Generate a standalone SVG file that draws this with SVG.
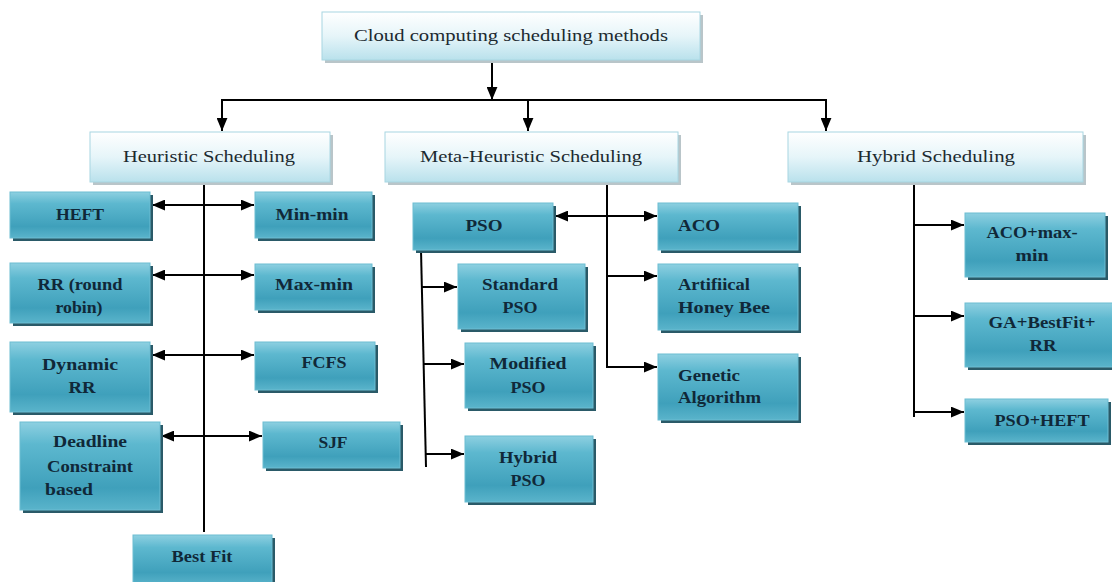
<svg xmlns="http://www.w3.org/2000/svg" width="1112" height="582" viewBox="0 0 1112 582">
<defs>
<linearGradient id="gTop" x1="0" y1="0" x2="0" y2="1">
<stop offset="0" stop-color="#ffffff"/>
<stop offset="0.5" stop-color="#e6f5f9"/>
<stop offset="1" stop-color="#b9e1ec"/>
</linearGradient>
<linearGradient id="gLeaf" x1="0" y1="0" x2="0" y2="1">
<stop offset="0" stop-color="#8ed0e1"/>
<stop offset="0.25" stop-color="#5db8cf"/>
<stop offset="0.75" stop-color="#3fa0bb"/>
<stop offset="1" stop-color="#5ab4cb"/>
</linearGradient>
<marker id="ah" viewBox="0 0 12 10" refX="12" refY="5" markerWidth="13" markerHeight="11" markerUnits="userSpaceOnUse" orient="auto-start-reverse">
<path d="M0,0 L12,5 L0,10 z" fill="#000"/>
</marker>
<style>
.tb{fill:url(#gTop);stroke:#a8d6e2;stroke-width:1}
.ts{fill:#b9c5c9}
.lb{fill:url(#gLeaf);stroke:#6cbdd2;stroke-width:1}
.ls{fill:#2a5a68}
.tt{font-family:"Liberation Serif","DejaVu Serif",serif;font-size:17px;fill:#1c2a30;text-anchor:middle}
.lt{font-family:"Liberation Serif","DejaVu Serif",serif;font-size:17px;font-weight:bold;fill:#102838;text-anchor:middle}
.ll{text-anchor:start}
.c{stroke:#000;stroke-width:2;fill:none}
.a{marker-end:url(#ah)}
.d{marker-start:url(#ah);marker-end:url(#ah)}
</style>
</defs>
<rect width="1112" height="582" fill="#fff"/>

<g id="connectors">
<line class="c a" x1="492" y1="60" x2="492" y2="100"/>
<line class="c" x1="221" y1="100" x2="827" y2="100"/>
<line class="c a" x1="222" y1="100" x2="222" y2="131"/>
<line class="c a" x1="528" y1="100" x2="528" y2="131"/>
<line class="c a" x1="826" y1="100" x2="826" y2="131"/>
<line class="c" x1="204" y1="182" x2="204" y2="532"/>
<line class="c d" x1="152" y1="205" x2="254" y2="205"/>
<line class="c d" x1="152" y1="275" x2="254" y2="275"/>
<line class="c d" x1="152" y1="355" x2="254" y2="355"/>
<line class="c d" x1="161" y1="436" x2="262" y2="436"/>
<path class="c a" d="M607,182 V367 H657"/>
<line class="c d" x1="555" y1="216" x2="657" y2="216"/>
<line class="c a" x1="607" y1="276" x2="657" y2="276"/>
<line class="c" x1="421" y1="250" x2="426" y2="467"/>
<line class="c a" x1="422" y1="287" x2="457" y2="287"/>
<line class="c a" x1="424" y1="364" x2="464" y2="364"/>
<line class="c a" x1="426" y1="454" x2="464" y2="454"/>
<line class="c" x1="914" y1="182" x2="914" y2="417"/>
<line class="c a" x1="914" y1="225" x2="964" y2="225"/>
<line class="c a" x1="914" y1="316" x2="964" y2="316"/>
<line class="c a" x1="914" y1="412" x2="964" y2="412"/>
</g>

<g id="root">
<rect class="ts" x="325" y="15" width="378" height="48"/>
<rect class="tb" x="322" y="12" width="378" height="48"/>
<text class="tt" x="511" y="41" textLength="314" lengthAdjust="spacingAndGlyphs">Cloud computing scheduling methods</text>
</g>
<g id="heuristic">
<rect class="ts" x="93" y="135" width="240" height="50"/>
<rect class="tb" x="90" y="132" width="240" height="50"/>
<text class="tt" x="209" y="162" textLength="172" lengthAdjust="spacingAndGlyphs">Heuristic Scheduling</text>
</g>
<g id="meta">
<rect class="ts" x="388" y="135" width="293" height="50"/>
<rect class="tb" x="385" y="132" width="293" height="50"/>
<text class="tt" x="531" y="162" textLength="222" lengthAdjust="spacingAndGlyphs">Meta-Heuristic Scheduling</text>
</g>
<g id="hybrid">
<rect class="ts" x="791" y="135" width="295" height="50"/>
<rect class="tb" x="788" y="132" width="295" height="50"/>
<text class="tt" x="936" y="162" textLength="158" lengthAdjust="spacingAndGlyphs">Hybrid  Scheduling</text>
</g>

<g id="heft">
<rect class="ls" x="13" y="195" width="140" height="46"/>
<rect class="lb" x="10" y="192" width="140" height="46"/>
<text class="lt" x="80" y="220" textLength="48" lengthAdjust="spacingAndGlyphs">HEFT</text>
</g>
<g id="minmin">
<rect class="ls" x="258" y="195" width="117" height="46"/>
<rect class="lb" x="255" y="192" width="117" height="46"/>
<text class="lt" x="312" y="220" textLength="73" lengthAdjust="spacingAndGlyphs">Min-min</text>
</g>
<g id="rr">
<rect class="ls" x="13" y="266" width="140" height="60"/>
<rect class="lb" x="10" y="263" width="140" height="60"/>
<text class="lt" x="80" y="290" textLength="85" lengthAdjust="spacingAndGlyphs">RR (round</text>
<text class="lt" x="79" y="313" textLength="47" lengthAdjust="spacingAndGlyphs">robin)</text>
</g>
<g id="maxmin">
<rect class="ls" x="258" y="267" width="117" height="46"/>
<rect class="lb" x="255" y="264" width="117" height="46"/>
<text class="lt" x="314" y="290" textLength="78" lengthAdjust="spacingAndGlyphs">Max-min</text>
</g>
<g id="dynrr">
<rect class="ls" x="13" y="345" width="140" height="70"/>
<rect class="lb" x="10" y="342" width="140" height="70"/>
<text class="lt" x="80" y="370" textLength="76" lengthAdjust="spacingAndGlyphs">Dynamic</text>
<text class="lt" x="82" y="393" textLength="27" lengthAdjust="spacingAndGlyphs">RR</text>
</g>
<g id="fcfs">
<rect class="ls" x="258" y="345" width="120" height="48"/>
<rect class="lb" x="255" y="342" width="120" height="48"/>
<text class="lt" x="324" y="368" textLength="45" lengthAdjust="spacingAndGlyphs">FCFS</text>
</g>
<g id="deadline">
<rect class="ls" x="23" y="425" width="140" height="88"/>
<rect class="lb" x="20" y="422" width="140" height="88"/>
<text class="lt" x="90" y="447" textLength="74" lengthAdjust="spacingAndGlyphs">Deadline</text>
<text class="lt" x="90" y="472" textLength="86" lengthAdjust="spacingAndGlyphs">Constraint</text>
<text class="lt ll" x="45" y="495" textLength="48" lengthAdjust="spacingAndGlyphs">based</text>
</g>
<g id="sjf">
<rect class="ls" x="266" y="425" width="137" height="46"/>
<rect class="lb" x="263" y="422" width="137" height="46"/>
<text class="lt" x="333" y="448" textLength="29" lengthAdjust="spacingAndGlyphs">SJF</text>
</g>
<g id="bestfit">
<rect class="ls" x="136" y="538" width="139" height="50"/>
<rect class="lb" x="133" y="535" width="139" height="50"/>
<text class="lt" x="202" y="562" textLength="61" lengthAdjust="spacingAndGlyphs">Best Fit</text>
</g>

<g id="pso">
<rect class="ls" x="416" y="206" width="140" height="47"/>
<rect class="lb" x="413" y="203" width="140" height="47"/>
<text class="lt" x="484" y="231" textLength="37" lengthAdjust="spacingAndGlyphs">PSO</text>
</g>
<g id="aco">
<rect class="ls" x="661" y="206" width="140" height="47"/>
<rect class="lb" x="658" y="203" width="140" height="47"/>
<text class="lt ll" x="678" y="231" textLength="42" lengthAdjust="spacingAndGlyphs">ACO</text>
</g>
<g id="stdpso">
<rect class="ls" x="461" y="267" width="127" height="65"/>
<rect class="lb" x="458" y="264" width="127" height="65"/>
<text class="lt" x="520" y="290" textLength="76" lengthAdjust="spacingAndGlyphs">Standard</text>
<text class="lt" x="520" y="313" textLength="35" lengthAdjust="spacingAndGlyphs">PSO</text>
</g>
<g id="abc">
<rect class="ls" x="661" y="267" width="140" height="66"/>
<rect class="lb" x="658" y="264" width="140" height="66"/>
<text class="lt ll" x="678" y="290" textLength="72" lengthAdjust="spacingAndGlyphs">Artifiical</text>
<text class="lt ll" x="678" y="313" textLength="92" lengthAdjust="spacingAndGlyphs">Honey Bee</text>
</g>
<g id="modpso">
<rect class="ls" x="468" y="346" width="128" height="65"/>
<rect class="lb" x="465" y="343" width="128" height="65"/>
<text class="lt" x="528" y="369" textLength="77" lengthAdjust="spacingAndGlyphs">Modified</text>
<text class="lt" x="528" y="393" textLength="35" lengthAdjust="spacingAndGlyphs">PSO</text>
</g>
<g id="ga">
<rect class="ls" x="661" y="357" width="140" height="66"/>
<rect class="lb" x="658" y="354" width="140" height="66"/>
<text class="lt ll" x="678" y="381" textLength="62" lengthAdjust="spacingAndGlyphs">Genetic</text>
<text class="lt ll" x="678" y="403" textLength="83" lengthAdjust="spacingAndGlyphs">Algorithm</text>
</g>
<g id="hybpso">
<rect class="ls" x="468" y="439" width="128" height="66"/>
<rect class="lb" x="465" y="436" width="128" height="66"/>
<text class="lt" x="528" y="463" textLength="58" lengthAdjust="spacingAndGlyphs">Hybrid</text>
<text class="lt" x="528" y="486" textLength="35" lengthAdjust="spacingAndGlyphs">PSO</text>
</g>

<g id="acomaxmin">
<rect class="ls" x="968" y="216" width="140" height="64"/>
<rect class="lb" x="965" y="213" width="140" height="64"/>
<text class="lt" x="1032" y="238" textLength="91" lengthAdjust="spacingAndGlyphs">ACO+max-</text>
<text class="lt" x="1032" y="261" textLength="33" lengthAdjust="spacingAndGlyphs">min</text>
</g>
<g id="gabestfitrr">
<rect class="ls" x="968" y="306" width="150" height="64"/>
<rect class="lb" x="965" y="303" width="150" height="64"/>
<text class="lt" x="1042" y="328" textLength="107" lengthAdjust="spacingAndGlyphs">GA+BestFit+</text>
<text class="lt" x="1043" y="351" textLength="27" lengthAdjust="spacingAndGlyphs">RR</text>
</g>
<g id="psoheft">
<rect class="ls" x="968" y="402" width="143" height="43"/>
<rect class="lb" x="965" y="399" width="143" height="43"/>
<text class="lt" x="1042" y="426" textLength="95" lengthAdjust="spacingAndGlyphs">PSO+HEFT</text>
</g>
</svg>
